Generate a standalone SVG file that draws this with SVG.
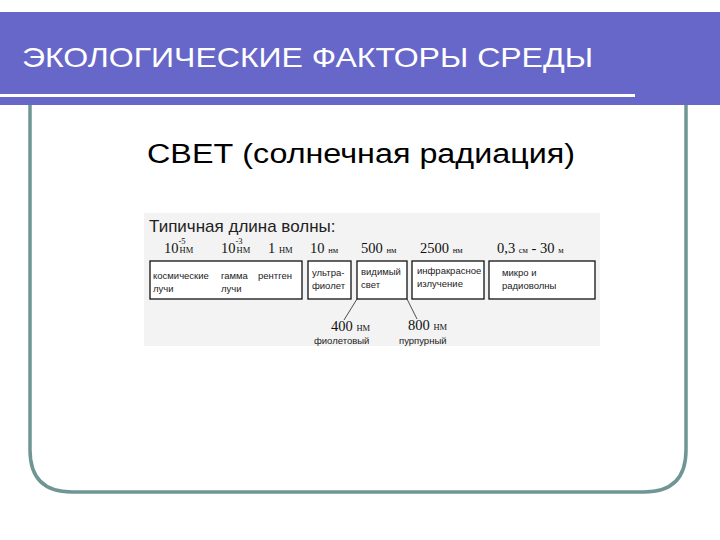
<svg xmlns="http://www.w3.org/2000/svg" width="720" height="540" viewBox="0 0 720 540">
<style>
.s{font-family:"Liberation Sans",Arial,sans-serif;fill:#222;font-size:9.5px}
.n{font-family:"Liberation Serif","Times New Roman",serif;fill:#111;font-size:14.5px}
.u{font-size:8.5px}
.b{fill:#fff;stroke:#111;stroke-width:1.3}
</style>
<rect width="720" height="540" fill="#fff"/>
<g id="frame"><path d="M30 80 V450 Q30 492 72 492 H644 Q686 492 686 450 V80" fill="none" stroke="#6f9694" stroke-width="3.5"/></g>
<g id="header">
<rect x="0" y="12" width="720" height="93" fill="#6767c9"/>
<rect x="0" y="94" width="635" height="3" fill="#fff"/>
<text x="22" y="67" font-family="Liberation Sans,Arial,sans-serif" font-size="28" textLength="571" lengthAdjust="spacingAndGlyphs" fill="#fff">ЭКОЛОГИЧЕСКИЕ ФАКТОРЫ СРЕДЫ</text>
</g>
<text x="147" y="163" font-family="Liberation Sans,Arial,sans-serif" font-size="27" textLength="428" lengthAdjust="spacingAndGlyphs" fill="#000">СВЕТ (солнечная радиация)</text>
<g id="spectrum">
<rect x="144" y="213" width="456" height="133" fill="#f3f3f3"/>
<text x="149" y="232" font-family="Liberation Sans,Arial,sans-serif" font-size="17" fill="#222">Типичная длина волны:</text>
<text class="n" x="164" y="253">10<tspan class="u" dy="-9">-5</tspan><tspan class="u" dy="9" dx="-6">НМ</tspan></text>
<text class="n" x="221" y="253">10<tspan class="u" dy="-9">-3</tspan><tspan class="u" dy="9" dx="-6">НМ</tspan></text>
<text class="n" x="268" y="253">1 <tspan class="u">НМ</tspan></text>
<text class="n" x="310" y="253">10 <tspan class="u">нм</tspan></text>
<text class="n" x="361" y="253">500 <tspan class="u">нм</tspan></text>
<text class="n" x="420" y="253">2500 <tspan class="u">нм</tspan></text>
<text class="n" x="497" y="253">0,3 <tspan class="u">см</tspan> - 30 <tspan class="u">м</tspan></text>
<g id="b1"><rect class="b" x="150" y="261" width="152" height="38"/>
<text class="s" x="153" y="279">космические</text><text class="s" x="153" y="292">лучи</text>
<text class="s" x="221" y="279">гамма</text><text class="s" x="221" y="292">лучи</text>
<text class="s" x="258" y="279">рентген</text></g>
<g id="b2"><rect class="b" x="308" y="261" width="43" height="38"/><text class="s" x="312" y="276">ультра-</text><text class="s" x="312" y="289">фиолет</text></g>
<g id="b3"><rect class="b" x="357" y="261" width="50" height="38"/><text class="s" x="361" y="275">видимый</text><text class="s" x="361" y="288">свет</text></g>
<g id="b4"><rect class="b" x="412" y="261" width="72" height="38"/><text class="s" x="417" y="274" font-size="8">инфракрасное</text><text class="s" x="417" y="287" font-size="8">излучение</text></g>
<g id="b5"><rect class="b" x="489" y="261" width="106" height="38"/><text class="s" x="502" y="276">микро  и</text><text class="s" x="502" y="289">радиоволны</text></g>
<g id="connectors" stroke="#222" stroke-width="0.8" fill="none"><path d="M357 299 L344 320"/><path d="M407 299 L417 319"/></g>
<text class="n" x="331" y="331">400 <tspan class="u">НМ</tspan></text>
<text class="n" x="408" y="330">800 <tspan class="u">НМ</tspan></text>
<text class="s" x="314" y="344">фиолетовый</text>
<text class="s" x="399" y="344">пурпурный</text>
</g>
</svg>
